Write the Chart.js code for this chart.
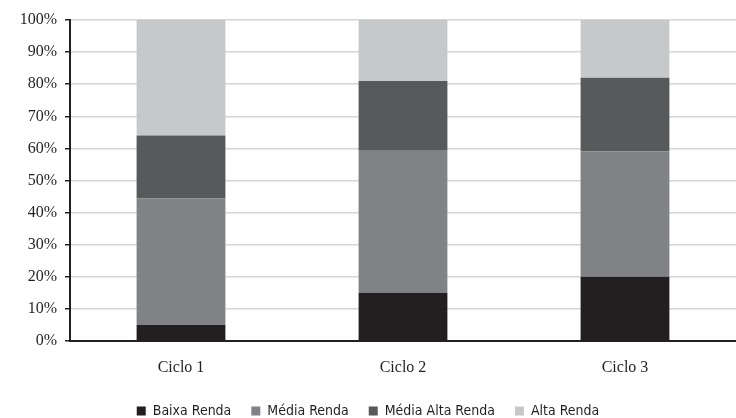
<!DOCTYPE html>
<html lang="pt">
<head>
  <meta charset="UTF-8">
  <title>Renda por ciclo</title>
  <style>
    html, body { margin: 0; padding: 0; background: #fff; }
    .chart-container { position: relative; width: 736px; height: 418px; }
  </style>
</head>
<body>
  <div class="chart-container">
    <canvas id="renda-chart"></canvas>
  </div>

  <script src="https://cdn.jsdelivr.net/npm/chart.js"></script>
  <script>
    var ciclos = ['Ciclo 1', 'Ciclo 2', 'Ciclo 3'];
    var baixaRenda = [5, 15, 20];
    var mediaRenda = [39.5, 44.5, 39];
    var mediaAltaRenda = [19.5, 21.5, 23];
    var altaRenda = [36, 19, 18];
    var yTicks = [0, 10, 20, 30, 40, 50, 60, 70, 80, 90, 100];

    var escuro = '#231f20';
    var serif = "'Liberation Serif', 'DejaVu Serif', serif";

    var rendaChart = new Chart(document.getElementById('renda-chart'), {
      type: 'bar',
      data: {
        labels: ciclos,
        datasets: [
          { label: 'Baixa Renda', data: baixaRenda, backgroundColor: '#231f20' },
          { label: 'Média Renda', data: mediaRenda, backgroundColor: '#818285' },
          { label: 'Média Alta Renda', data: mediaAltaRenda, backgroundColor: '#58595b' },
          { label: 'Alta Renda', data: altaRenda, backgroundColor: '#c7c8ca' }
        ]
      },
      options: {
        responsive: true,
        maintainAspectRatio: false,
        animation: false,
        datasets: {
          bar: { categoryPercentage: 1, barPercentage: 0.4 }
        },
        layout: {
          padding: { top: 20, right: 0, left: 0, bottom: -10 }
        },
        scales: {
          x: {
            stacked: true,
            grid: { display: false },
            border: { color: escuro, width: 2 },
            ticks: {
              color: escuro,
              padding: 9,
              font: { family: serif, size: 16 }
            },
            afterFit: function(scale) { scale.height = 43; }
          },
          y: {
            stacked: true,
            min: 0,
            max: 100,
            afterBuildTicks: function(scale) {
              scale.ticks = yTicks.map(function(v) { return { value: v }; });
            },
            grid: {
              color: '#d4d5d6',
              lineWidth: 1.5,
              tickLength: 5,
              tickColor: escuro
            },
            border: { color: escuro, width: 2 },
            ticks: {
              color: escuro,
              padding: 8,
              font: { family: serif, size: 16 },
              callback: function(v) { return v + '%'; }
            },
            afterFit: function(scale) { scale.width = 70; }
          }
        },
        plugins: {
          tooltip: { enabled: false },
          legend: {
            position: 'bottom',
            labels: {
              color: escuro,
              boxWidth: 9,
              boxHeight: 9,
              padding: 20,
              font: { family: "'DejaVu Sans Condensed', 'Liberation Sans Narrow', 'Liberation Sans', sans-serif", size: 14 }
            }
          }
        }
      }
    });
  </script>
</body>
</html>
